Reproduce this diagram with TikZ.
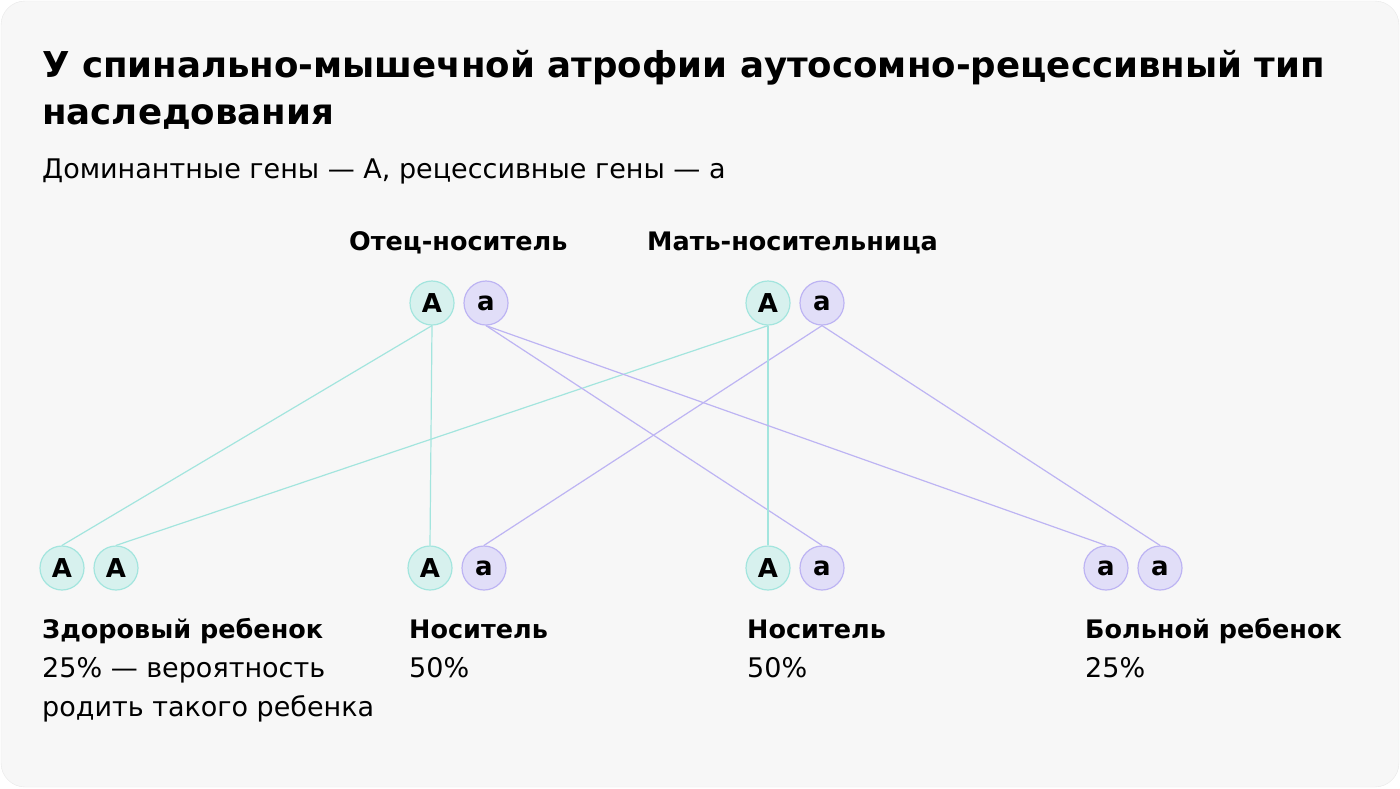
\documentclass[tikz,border=0pt]{standalone}
\usepackage{fontspec}
\setmainfont{DejaVu Sans}
\usetikzlibrary{positioning}
\definecolor{cardbg}{HTML}{F7F7F7}
\definecolor{cardline}{HTML}{E8E8E8}
\definecolor{domfill}{HTML}{D7F1EE}
\definecolor{domline}{HTML}{A3E5DE}
\definecolor{recfill}{HTML}{E1DEF8}
\definecolor{recline}{HTML}{BDB4F3}

\begin{document}
\begin{tikzpicture}[x=1pt,y=-1pt,
  dom/.style={circle,draw=domline,fill=domfill,line width=1.2pt,minimum size=44pt,inner sep=0pt,font=\bfseries\fontsize{26}{26}\selectfont},
  rec/.style={circle,draw=recline,fill=recfill,line width=1.2pt,minimum size=44pt,inner sep=0pt,font=\bfseries\fontsize{26}{26}\selectfont},
  txt/.style={anchor=base west,inner sep=0pt,font=\fontsize{27}{27}\selectfont},
  btxt/.style={txt,font=\bfseries\fontsize{25.5}{25.5}\selectfont}]
  \useasboundingbox (0,0) rectangle (1400,788);
  \draw[cardline,fill=cardbg,rounded corners=24pt] (1,1) rectangle (1399,787);
  % title
  \node[anchor=base west,inner sep=0pt,font=\bfseries\fontsize{35.6}{36}\selectfont] (title1) at (42,77) {У спинально-мышечной атрофии аутосомно-рецессивный тип};
  \node[anchor=base west,inner sep=0pt,font=\bfseries\fontsize{35.6}{36}\selectfont] (title2) at (42,124) {наследования};
  \node[txt] (legend) at (42,178) {Доминантные гены — А, рецессивные гены — а};
  % parents
  \node[btxt] (father) at (349,250) {Отец-носитель};
  \node[btxt] (mother) at (647,250) {Мать-носительница};
  \node[dom] (fA) at (432,303) {A};
  \node[rec] (fa) at (486,303) {a};
  \node[dom] (mA) at (768,303) {A};
  \node[rec] (ma) at (822,303) {a};
  % children
  \node[dom] (c1A) at (62,568) {A};
  \node[dom] (c1B) at (116,568) {A};
  \node[dom] (c2A) at (430,568) {A};
  \node[rec] (c2a) at (484,568) {a};
  \node[dom] (c3A) at (768,568) {A};
  \node[rec] (c3a) at (822,568) {a};
  \node[rec] (c4a) at (1106,568) {a};
  \node[rec] (c4b) at (1160,568) {a};
  % inheritance lines
  \draw[domline,line width=1.2pt] (fA.south) -- (c1A.north);
  \draw[domline,line width=1.2pt] (mA.south) -- (c1B.north);
  \draw[domline,line width=1.2pt] (fA.south) -- (c2A.north);
  \draw[recline,line width=1.2pt] (ma.south) -- (c2a.north);
  \draw[recline,line width=1.2pt] (fa.south) -- (c3a.north);
  \draw[domline,line width=1.2pt] (mA.south) -- (c3A.north);
  \draw[recline,line width=1.2pt] (fa.south) -- (c4a.north);
  \draw[recline,line width=1.2pt] (ma.south) -- (c4b.north);
  % captions
  \node[btxt] (healthy) at (42,638) {Здоровый ребенок};
  \node[txt] (healthyp) at (42,677) {25\% — вероятность};
  \node[txt] (healthyq) at (42,716) {родить такого ребенка};
  \node[btxt] (carrier1) at (409,638) {Носитель};
  \node[txt] (carrier1p) at (409,677) {50\%};
  \node[btxt] (carrier2) at (747,638) {Носитель};
  \node[txt] (carrier2p) at (747,677) {50\%};
  \node[btxt] (sick) at (1085,638) {Больной ребенок};
  \node[txt] (sickp) at (1085,677) {25\%};
\end{tikzpicture}
\end{document}
